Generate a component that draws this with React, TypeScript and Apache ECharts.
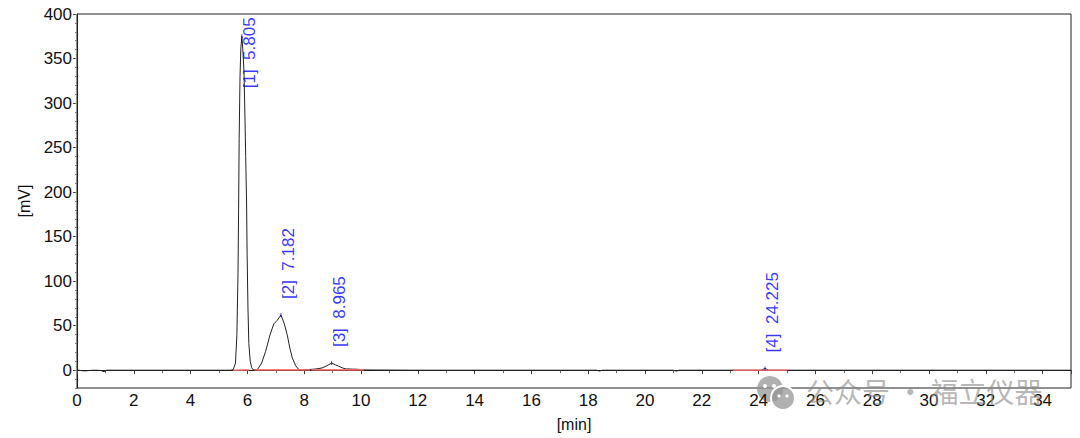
import React, { useEffect, useRef } from "react";
import * as echarts from "echarts";

// Chromatogram trace (time in min, signal in mV)
const traceTime = [
  0, 0.15, 0.3, 0.45, 0.6, 0.85, 0.9, 1.0, 1.05, 2, 4, 5.4, 5.5, 5.58, 5.63, 5.67, 5.69, 5.71, 5.74, 5.77,
  5.805, 5.84, 5.88, 5.91, 5.94, 5.97, 5.99, 6.02, 6.05, 6.1, 6.15, 6.2, 6.35, 6.5, 6.64, 6.8, 6.93, 7.05,
  7.182, 7.3, 7.4, 7.5, 7.58, 7.7, 7.8, 7.9, 8.28, 8.45, 8.63, 8.8, 8.965, 9.1, 9.21, 9.35, 9.46, 9.7, 9.9,
  10.1, 12, 18.3, 18.4, 18.5, 21.0, 21.1, 21.2, 24.1, 24.225, 24.35, 35,
];
const traceSignal = [
  0.3, -0.5, -0.8, -0.3, 0, -0.3, -1.5, -1.2, 0, 0, 0, 0, 0.5, 8, 40, 110, 180, 260, 330, 362,
  375, 360, 335, 290, 240, 190, 130, 70, 30, 10, 3, 0.5, 0.5, 8, 21, 40, 52, 56,
  62, 52, 40, 24, 14, 5, 1, 0.3, 1, 1.5, 2.5, 5, 8, 6, 4.5, 2.5, 1.5, 1.2, 1,
  0.3, 0, 0, -1, 0, 0, -1, 0, 0, 2, 0, 0,
];

// Integration baselines (start/end time, start/end level)
const baseStartTime = [5.5, 6.25, 8.25, 23.1];
const baseEndTime = [6.05, 8.2, 10.1, 25.0];
const baseStartLevel = [0, 0.3, 0.3, 0];
const baseEndLevel = [0.3, 0.3, 0.3, 0];

// Peaks
const peakIds = [1, 2, 3, 4];
const peakTimes = [5.805, 7.182, 8.965, 24.225];
const peakHeights = [375, 62, 8, 2];

// Axis ticks
const yMajorTicks = [0, 50, 100, 150, 200, 250, 300, 350, 400];

const FONT = "'Liberation Sans', Arial, sans-serif";

export default function App() {
  const ref = useRef<HTMLDivElement>(null);
  useEffect(() => {
    if (!ref.current) return;
    const chart = echarts.init(ref.current, null, { renderer: "svg" });

    const trace = traceTime.map((t, i) => [t, traceSignal[i]]);
    const baseData: any[] = [];
    baseStartTime.forEach((s, i) => {
      baseData.push([s, baseStartLevel[i]]);
      baseData.push([baseEndTime[i], baseEndLevel[i]]);
      baseData.push([baseEndTime[i], "-"]);
    });
    const peakData = peakTimes.map((t, i) => ({
      value: [t, peakHeights[i]],
      name: `[${peakIds[i]}]  ${t.toFixed(3)}`,
      label: i === 0 ? { position: [8.5, 54] } : undefined,
    }));

    chart.setOption({
      animation: false,
      grid: {
        left: 77,
        right: 9,
        top: 14,
        bottom: 50,
        show: true,
        borderColor: "#222",
        borderWidth: 1,
        backgroundColor: "transparent",
      },
      xAxis: {
        type: "value",
        min: 0,
        max: 35,
        interval: 2,
        name: "[min]",
        nameLocation: "middle",
        nameGap: 28,
        nameTextStyle: { color: "#111", fontSize: 16, fontFamily: FONT },
        axisLine: { lineStyle: { color: "#222", width: 1 } },
        axisTick: { show: true, length: 4, lineStyle: { color: "#444" } },
        minorTick: { show: true, splitNumber: 2, length: 3, lineStyle: { color: "#666" } },
        splitLine: { show: false },
        axisLabel: {
          color: "#111",
          fontSize: 17,
          fontFamily: FONT,
          margin: 4,
          showMaxLabel: false,
        },
      },
      yAxis: [
        {
          type: "value",
          min: -20,
          max: 400,
          name: "[mV]",
          nameLocation: "middle",
          nameGap: 44,
          nameTextStyle: { color: "#111", fontSize: 16, fontFamily: FONT },
          axisLine: { show: true, lineStyle: { color: "#222", width: 1 } },
          axisTick: { show: true, length: 4, customValues: yMajorTicks, lineStyle: { color: "#444" } },
          axisLabel: {
            color: "#111",
            fontSize: 17,
            fontFamily: FONT,
            margin: 5,
            customValues: yMajorTicks,
          },
          splitLine: { show: false },
        },
        {
          type: "value",
          min: -20,
          max: 400,
          interval: 10,
          position: "left",
          axisLine: { show: false },
          axisTick: { show: true, length: 2, lineStyle: { color: "#777" } },
          axisLabel: { show: false },
          splitLine: { show: false },
        },
      ],
      series: [
        {
          type: "line",
          data: trace,
          showSymbol: false,
          symbol: "none",
          lineStyle: { color: "#222", width: 1 },
          z: 3,
        },
        {
          type: "line",
          data: baseData,
          showSymbol: false,
          symbol: "none",
          connectNulls: false,
          lineStyle: { color: "#ff6666", width: 1.6, opacity: 0.85 },
          z: 4,
        },
        {
          type: "scatter",
          data: peakData,
          symbol: "rect",
          symbolSize: [1, 4],
          itemStyle: { color: "#0000ff" },
          label: {
            show: true,
            formatter: (p: any) => p.name,
            position: [8.5, -14],
            rotate: 90,
            align: "left",
            verticalAlign: "middle",
            color: "#0000ff",
            fontSize: 17,
            fontFamily: FONT,
          },
          z: 5,
        },
      ],
      graphic: [
        {
          type: "group",
          left: 757,
          top: 376,
          z: 1,
          children: [
            { type: "circle", shape: { cx: 14, cy: 13, r: 13 }, style: { fill: "rgba(150,150,150,0.75)" } },
            { type: "circle", shape: { cx: 27, cy: 22, r: 12 }, style: { fill: "rgba(150,150,150,0.75)", stroke: "#fff", lineWidth: 2 } },
            { type: "circle", shape: { cx: 9, cy: 10, r: 2 }, style: { fill: "#fff" } },
            { type: "circle", shape: { cx: 18, cy: 10, r: 2 }, style: { fill: "#fff" } },
            { type: "circle", shape: { cx: 23, cy: 20, r: 1.6 }, style: { fill: "#fff" } },
            { type: "circle", shape: { cx: 31, cy: 20, r: 1.6 }, style: { fill: "#fff" } },
          ],
        },
        {
          type: "text",
          left: 806,
          top: 377,
          z: 1,
          style: {
            text: "公众号 · 福立仪器",
            fill: "rgba(135,135,135,0.6)",
            font: "28px 'Noto Sans CJK SC', sans-serif",
          },
        },
      ],
    });
    return () => chart.dispose();
  }, []);
  return (
    <div
      ref={ref}
      style={{ position: "absolute", left: 0, top: 0, width: 1080, height: 438, background: "#fff" }}
    />
  );
}
